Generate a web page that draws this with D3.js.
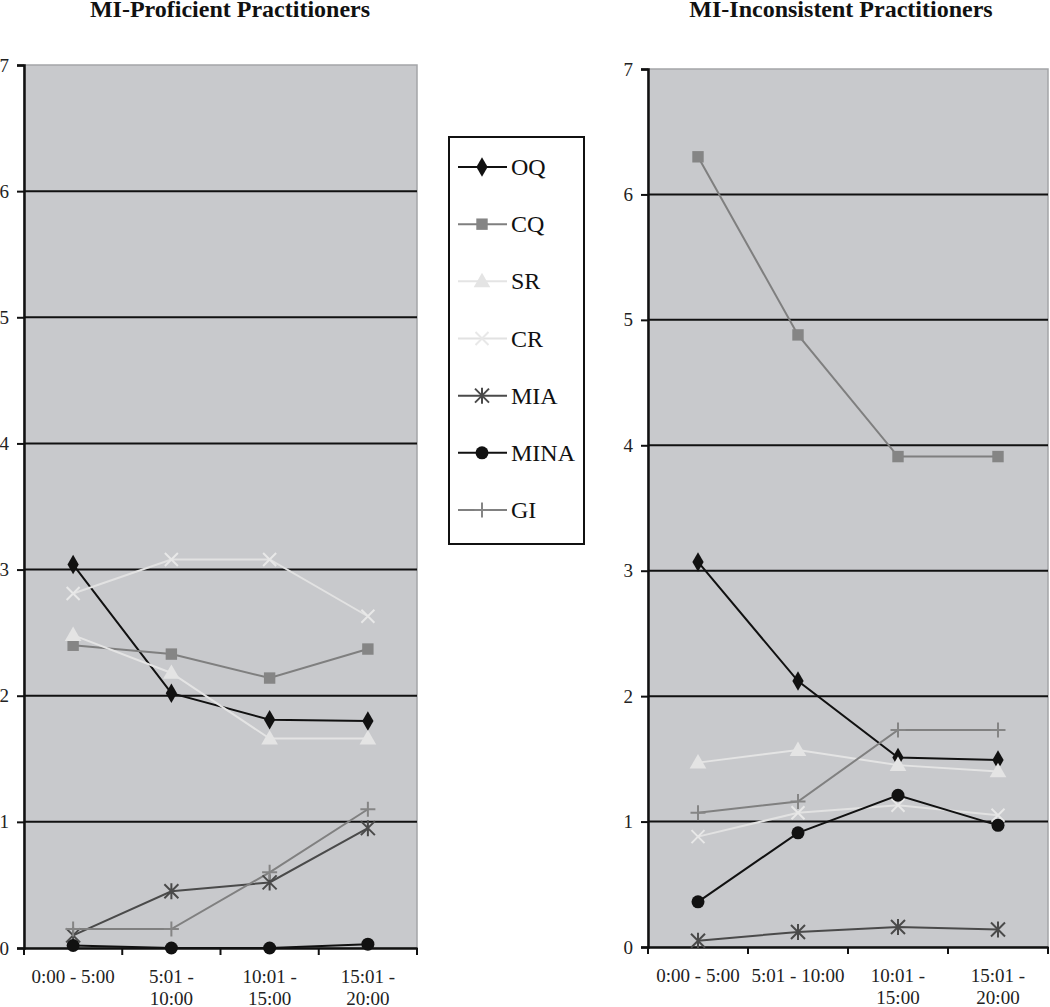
<!DOCTYPE html>
<html><head><meta charset="utf-8">
<script src="https://cdn.jsdelivr.net/npm/d3@7"></script>
<style>body{margin:0;background:#fff;}svg{display:block;font-family:"Liberation Serif","Times New Roman",serif;}</style>
</head><body><svg id="c" width="1050" height="1007"></svg>
<script>
const categories = ["0:00 - 5:00","5:01 - 10:00","10:01 - 15:00","15:01 - 20:00"];
const leftTickLabels = [["0:00 - 5:00"],["5:01 -","10:00"],["10:01 -","15:00"],["15:01 -","20:00"]];
const rightTickLabels = [["0:00 - 5:00"],["5:01 - 10:00"],["10:01 -","15:00"],["15:01 -","20:00"]];
const yTicks = [0,1,2,3,4,5,6,7];
const seriesNames = ["OQ","CQ","SR","CR","MIA","MINA","GI"];
const seriesColors = ["#111111","#7f7f7f","#e4e4e4","#e2e2e2","#4a4a4a","#111111","#808080"];
const markerColors = ["#111111","#858585","#e4e4e4","#e8e8e8","#4a4a4a","#111111","#858585"];
const markerTypes = ["diamond","square","triangle","x","asterisk","circle","plus"];

// MI-Proficient Practitioners
const profOQ   = [3.04, 2.02, 1.81, 1.80];
const profCQ   = [2.40, 2.33, 2.14, 2.37];
const profSR   = [2.48, 2.18, 1.66, 1.66];
const profCR   = [2.81, 3.08, 3.08, 2.63];
const profMIA  = [0.10, 0.45, 0.52, 0.95];
const profMINA = [0.02, 0.00, 0.00, 0.03];
const profGI   = [0.15, 0.15, 0.60, 1.10];

// MI-Inconsistent Practitioners
const incOQ   = [3.07, 2.12, 1.51, 1.49];
const incCQ   = [6.30, 4.88, 3.91, 3.91];
const incSR   = [1.47, 1.57, 1.45, 1.40];
const incCR   = [0.88, 1.07, 1.13, 1.05];
const incMIA  = [0.05, 0.12, 0.16, 0.14];
const incMINA = [0.36, 0.91, 1.21, 0.97];
const incGI   = [1.07, 1.16, 1.73, 1.73];

const svg = d3.select("#c");

function marker(g, type, x, y, color) {
  if (type === "diamond") {
    g.append("path").attr("d", d3.symbol(d3.symbolDiamond, 110)()).attr("transform", `translate(${x},${y})`).attr("fill", color);
  } else if (type === "square") {
    g.append("path").attr("d", d3.symbol(d3.symbolSquare, 130)()).attr("transform", `translate(${x},${y})`).attr("fill", color);
  } else if (type === "triangle") {
    g.append("path").attr("d", d3.symbol(d3.symbolTriangle, 120)()).attr("transform", `translate(${x},${y+1})`).attr("fill", color);
  } else if (type === "circle") {
    g.append("circle").attr("cx", x).attr("cy", y).attr("r", 6.5).attr("fill", color);
  } else if (type === "x") {
    const s = 6.5;
    g.append("path").attr("d", `M${x-s},${y-s}L${x+s},${y+s}M${x-s},${y+s}L${x+s},${y-s}`).attr("stroke", color).attr("stroke-width", 2);
  } else if (type === "plus") {
    const s = 7.5;
    g.append("path").attr("d", `M${x-s},${y}L${x+s},${y}M${x},${y-s}L${x},${y+s}`).attr("stroke", color).attr("stroke-width", 2);
  } else if (type === "asterisk") {
    const s = 7;
    g.append("path").attr("d", `M${x-s},${y-s}L${x+s},${y+s}M${x-s},${y+s}L${x+s},${y-s}M${x},${y-s-1}L${x},${y+s+1}`).attr("stroke", color).attr("stroke-width", 2);
  }
}

function drawPanel(cfg) {
  const x = d3.scaleBand().domain(categories).range([cfg.x0, cfg.x1]).padding(0);
  const y = d3.scaleLinear().domain([0, 7]).range([cfg.y0, cfg.y1]);
  const g = svg.append("g");
  // plot area
  g.append("rect").attr("x", cfg.x0).attr("y", y(7)).attr("width", cfg.x1 - cfg.x0).attr("height", y(0) - y(7))
    .attr("fill", "#c8c9cc").attr("stroke", "#a4a5a8").attr("stroke-width", 1.5);
  // gridlines
  g.selectAll(".grid").data(yTicks.filter(v => v > 0 && v < 7)).join("line")
    .attr("x1", cfg.x0).attr("x2", cfg.x1).attr("y1", d => y(d)).attr("y2", d => y(d))
    .attr("stroke", "#111").attr("stroke-width", 2);
  // y axis
  const ya = g.append("g").attr("transform", `translate(${cfg.x0},0)`)
    .call(d3.axisLeft(y).tickValues(yTicks).tickFormat(d3.format("d")).tickSize(7).tickPadding(8));
  ya.select(".domain").attr("stroke", "#111").attr("stroke-width", 2.5);
  ya.selectAll(".tick line").attr("stroke", "#111").attr("stroke-width", 2);
  ya.selectAll(".tick text").attr("font-family", "Liberation Serif").attr("font-size", 19).attr("fill", "#222");
  // x axis
  const xa = g.append("g").attr("transform", `translate(0,${cfg.y0})`)
    .call(d3.axisBottom(x).tickSize(0).tickFormat(""));
  xa.select(".domain").attr("stroke", "#111").attr("stroke-width", 2.5);
  const bounds = categories.map(c => x(c)).concat([cfg.x1]);
  g.selectAll(".xt").data(bounds).join("line")
    .attr("x1", d => d).attr("x2", d => d).attr("y1", cfg.y0).attr("y2", cfg.y0 + 7)
    .attr("stroke", "#111").attr("stroke-width", 2);
  categories.forEach((c, i) => {
    const t = g.append("text").attr("x", x(c) + x.bandwidth() / 2).attr("y", cfg.labelY)
      .attr("text-anchor", "middle").attr("font-size", 19).attr("fill", "#222");
    cfg.tickLabels[i].forEach((ln, j) => {
      t.append("tspan").attr("x", x(c) + x.bandwidth() / 2).attr("dy", j === 0 ? 0 : 22).text(ln);
    });
  });
  // title
  g.append("text").attr("x", cfg.titleX).attr("y", 17).attr("text-anchor", "middle")
    .attr("font-size", 24).attr("font-weight", "bold").attr("fill", "#111").text(cfg.title);
  // series
  const line = d3.line().x((d, i) => x(categories[i]) + x.bandwidth() / 2).y(d => y(d));
  cfg.series.forEach((vals, si) => {
    g.append("path").datum(vals).attr("d", line).attr("fill", "none")
      .attr("stroke", seriesColors[si]).attr("stroke-width", 2);
  });
  cfg.series.forEach((vals, si) => {
    vals.forEach((v, i) => marker(g, markerTypes[si], x(categories[i]) + x.bandwidth() / 2, y(v), markerColors[si]));
  });
}

drawPanel({x0: 24, x1: 417, y0: 948, y1: 65, labelY: 983, tickLabels: leftTickLabels,
  title: "MI-Proficient Practitioners", titleX: 230,
  series: [profOQ, profCQ, profSR, profCR, profMIA, profMINA, profGI]});
drawPanel({x0: 648, x1: 1048, y0: 947, y1: 69, labelY: 982, tickLabels: rightTickLabels,
  title: "MI-Inconsistent Practitioners", titleX: 841,
  series: [incOQ, incCQ, incSR, incCR, incMIA, incMINA, incGI]});

// legend
const lg = svg.append("g");
lg.append("rect").attr("x", 449).attr("y", 137).attr("width", 135).attr("height", 407)
  .attr("fill", "#fff").attr("stroke", "#111").attr("stroke-width", 2);
const ly = d3.scalePoint().domain(seriesNames).range([167, 510]);
seriesNames.forEach((n, i) => {
  const yy = ly(n);
  lg.append("line").attr("x1", 458).attr("x2", 507).attr("y1", yy).attr("y2", yy)
    .attr("stroke", seriesColors[i]).attr("stroke-width", 2);
  marker(lg, markerTypes[i], 482, yy, markerColors[i]);
  lg.append("text").attr("x", 511).attr("y", yy + 8).attr("font-size", 24).attr("fill", "#111").text(n);
});
</script></body></html>
